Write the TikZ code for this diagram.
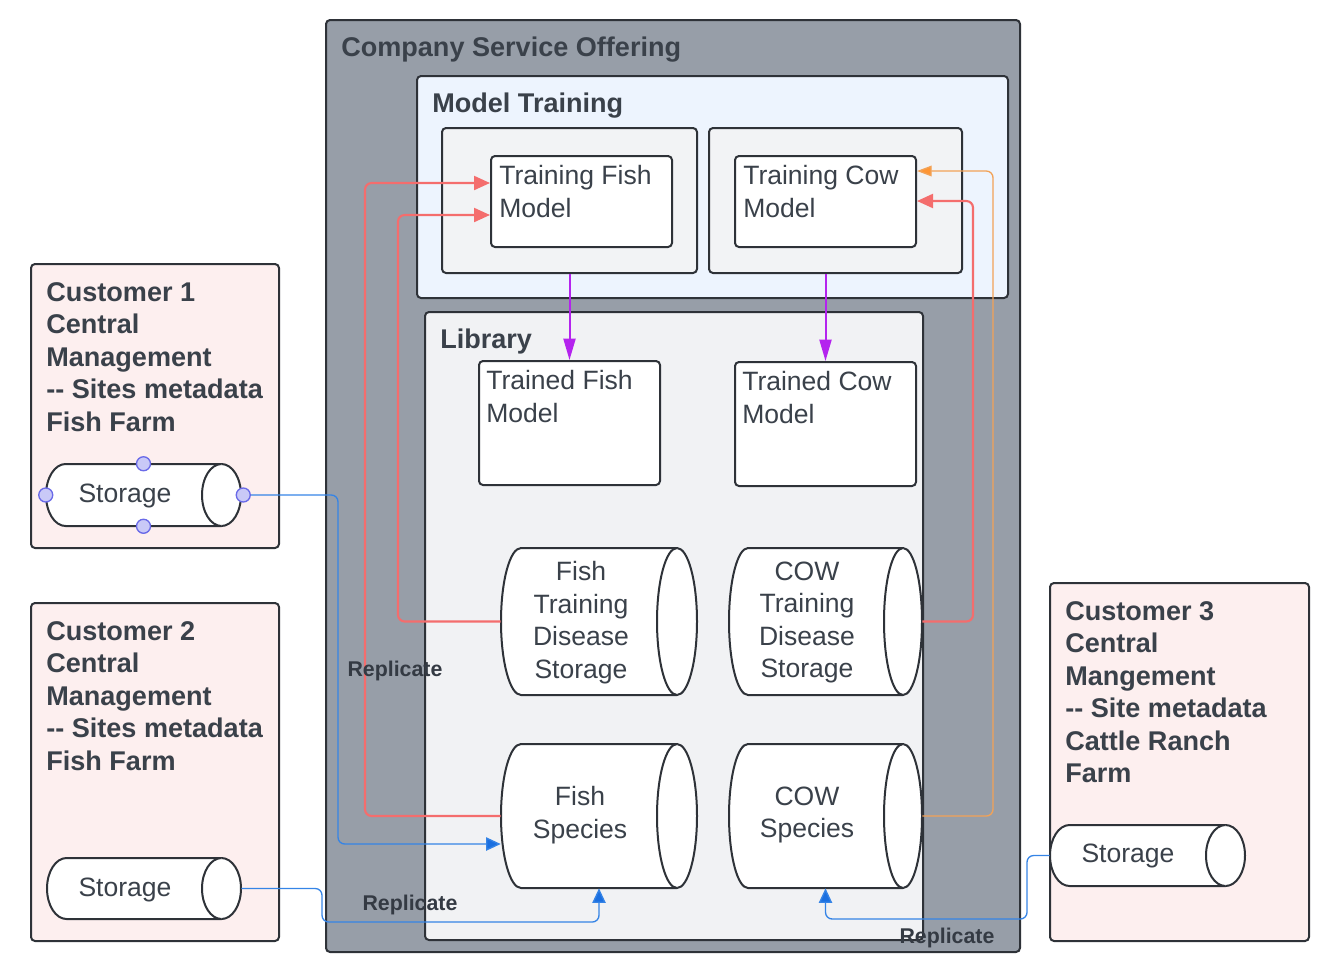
\documentclass[tikz,border=0pt]{standalone}
\usepackage{fontspec}
\setmainfont{Liberation Sans}
\usetikzlibrary{arrows.meta,fit,calc}
\definecolor{edge}{HTML}{2E3238}
\definecolor{ink}{HTML}{3A414A}
\definecolor{cofill}{HTML}{979EA8}
\definecolor{mtfill}{HTML}{EDF4FE}
\definecolor{grayfill}{HTML}{F2F3F5}
\definecolor{libfill}{HTML}{F1F2F4}
\definecolor{custfill}{HTML}{FDEFEF}
\definecolor{redc}{HTML}{F46D6D}
\definecolor{orangec}{HTML}{F2A257}
\definecolor{orangea}{HTML}{FF9533}
\definecolor{purplec}{HTML}{B423EE}
\definecolor{bluec}{HTML}{3584E6}
\definecolor{bluea}{HTML}{1A6FE0}
\definecolor{handlefill}{HTML}{C9C9F7}
\definecolor{handleedge}{HTML}{6A6AE8}
\newcommand\cylbox[6]{%
  \node[fit={(#2,#3) (#4,#5)}, inner sep=0pt] (#1) {};
  \filldraw[cylsty] (#4-#6,#3) -- (#2+#6,#3)
    arc[start angle=270,end angle=90,x radius=#6,y radius={(#5-#3)/2}]
    -- (#4-#6,#5)
    arc[start angle=90,end angle=-90,x radius=#6,y radius={(#5-#3)/2}] -- cycle;
  \draw[cylsty] (#4-#6,#3)
    arc[start angle=270,end angle=90,x radius=#6,y radius={(#5-#3)/2}];
}
\begin{document}
\begin{tikzpicture}[x=0.75pt,y=-0.75pt,
  box/.style={draw=edge, line width=1.5pt, rounded corners=3pt, inner sep=0pt},
  cylsty/.style={draw=edge, fill=white, line width=1.5pt},
  txt/.style={inner sep=0pt, text=ink, font=\fontsize{19.9}{24.4}\selectfont, align=left, anchor=north west},
  btxt/.style={txt, font=\fontsize{20.3}{24.4}\selectfont\bfseries},
  ctxt/.style={inner sep=0pt, text=ink, font=\fontsize{19.9}{24.4}\selectfont, align=center},
  reptxt/.style={inner sep=0pt, text=ink!90!black, font=\fontsize{16}{19}\selectfont\bfseries},
  redline/.style={draw=redc, line width=1.6pt, rounded corners=5pt, -{Triangle[length=12pt,width=10.5pt]}},
  orangeline/.style={draw=orangec, line width=1pt, rounded corners=5pt, -{Triangle[length=11pt,width=8pt,fill=orangea]}},
  purpleline/.style={draw=purplec, line width=1.5pt, -{Triangle[length=16pt,width=9pt]}},
  blueline/.style={draw=bluec, line width=1pt, rounded corners=5pt, -{Triangle[length=11pt,width=10pt,fill=bluea]}},
  handle/.style={circle, minimum size=10.5pt, inner sep=0pt, fill=handlefill, draw=handleedge, line width=1pt}
]
\useasboundingbox (0,0) rectangle (1339,958);

% Company box
\node[box, fill=cofill, fit={(326,20) (1020,952)}] (co) {};
\node[btxt] (cotitle) at (341,37) {Company Service Offering};

% Model training
\node[box, fill=mtfill, fit={(417,76) (1008,298)}] (mt) {};
\node[btxt] (mttitle) at (432,93) {Model Training};
\node[box, fill=grayfill, fit={(442,128) (697,273)}] (lb) {};
\node[box, fill=grayfill, fit={(709,128) (962,273)}] (rb) {};
\node[box, fill=white, fit={(491,156) (672,247)}] (tfm) {};
\node[txt] (tfmtext) at (499,165) {Training Fish\\Model};
\node[box, fill=white, fit={(735,156) (916,247)}] (tcm) {};
\node[txt] (tcmtext) at (743,165) {Training Cow\\Model};

% Library
\node[box, fill=libfill, fit={(425,312) (923,940)}] (lib) {};
\node[btxt] (libtitle) at (440,329) {Library};
\node[box, fill=white, fit={(479,361) (660,485)}] (tfl) {};
\node[txt] (tfltext) at (486,370) {Trained Fish\\Model};
\node[box, fill=white, fit={(735,362) (916,486)}] (tcl) {};
\node[txt] (tcltext) at (742,371) {Trained Cow\\Model};

\cylbox{ftds}{501}{548}{697}{695}{20}
\node[ctxt] (ftdstext) at (581,622.5) {Fish\\Training\\Disease\\Storage};
\cylbox{ctds}{729}{548}{922}{695}{19}
\node[ctxt] (ctdstext) at (807,622.5) {COW\\Training\\Disease\\Storage};
\cylbox{fs}{501}{744}{697}{888}{20}
\node[ctxt] (fstext) at (580,815) {Fish\\Species};
\cylbox{cs}{729}{744}{922}{888}{19}
\node[ctxt] (cstext) at (807,815) {COW\\Species};

% Customers
\node[box, fill=custfill, fit={(31,264) (279,548)}] (c1) {};
\node[btxt] (c1text) at (46,282) {Customer 1\\Central\\Management\\-{}- Sites metadata\\Fish Farm};
\cylbox{st1}{46}{464}{241}{526}{19.5}
\node[ctxt] (st1text) at (125,496) {Storage};

\node[box, fill=custfill, fit={(31,603) (279,941)}] (c2) {};
\node[btxt] (c2text) at (46,621) {Customer 2\\Central\\Management\\-{}- Sites metadata\\Fish Farm};
\cylbox{st2}{47}{858}{241}{919}{19.5}
\node[ctxt] (st2text) at (125,890) {Storage};

\node[box, fill=custfill, fit={(1050,583) (1309,941)}] (c3) {};
\node[btxt] (c3text) at (1065,601) {Customer 3\\Central\\Mangement\\-{}- Site metadata\\Cattle Ranch\\Farm};
\cylbox{st3}{1050}{825}{1245}{886}{19.5}
\node[ctxt] (st3text) at (1128,856) {Storage};

% helper coordinates
\coordinate (y183) at (0,183);
\coordinate (y215) at (0,215);
\coordinate (y201) at (0,201);
\coordinate (y171) at (0,171);
\coordinate (y844) at (0,844);

% connectors
\draw[redline] (fs.west) -| (365,183) -- (tfm.west |- y183);
\draw[redline] (ftds.west) -| (398,215) -- (tfm.west |- y215);
\draw[redline] (ctds.east) -| (973,201) -- (tcm.east |- y201);
\draw[orangeline] (cs.east) -| (993,171) -- (tcm.east |- y171);
\draw[purpleline] (lb.south) -- (tfl.north);
\draw[purpleline] (tcl.north |- rb.south) -- (tcl.north);
\draw[blueline] (st1.east) -| (338,844) -- (fs.west |- y844);
\draw[blueline] (st2.east) -| (322,922) -| (fs.south);
\draw[blueline] (st3.west) -| (1027,919) -| (cs.south);

% handles
\node[handle] (h1n) at (st1.north) {};
\node[handle] (h1s) at (st1.south) {};
\node[handle] (h1w) at (st1.west) {};
\node[handle] (h1e) at ($(st1.east)+(2,0)$) {};

% labels
\node[reptxt] (rep1) at (395,671) {Replicate};
\node[reptxt] (rep2) at (410,905) {Replicate};
\node[reptxt] (rep3) at (947,938) {Replicate};
\end{tikzpicture}
\end{document}
